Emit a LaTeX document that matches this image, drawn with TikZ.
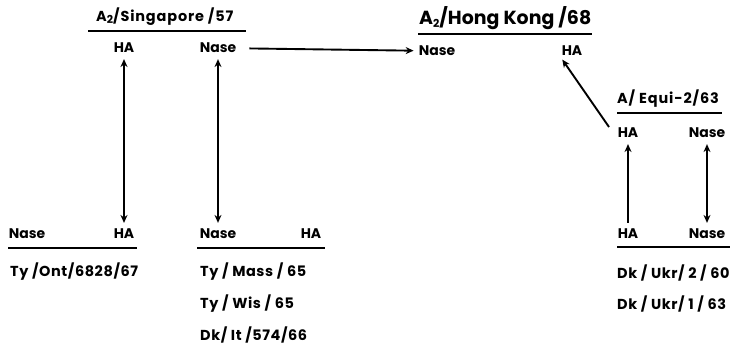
\documentclass[tikz,border=0pt]{standalone}
\usepackage{fontspec}
\setmainfont{Poppins}[UprightFont={* Bold},BoldFont={* Bold}]
\newfontfamily\widettl{Poppins}[UprightFont={* Bold},LetterSpace=6]
\newfontfamily\widelst{Poppins}[UprightFont={* Bold},LetterSpace=4]
\usetikzlibrary{arrows.meta}
\newcommand{\sub}[1]{\raisebox{-0.35ex}{\fontsize{11}{11}\selectfont #1}}
\begin{document}
\begin{tikzpicture}[x=1bp,y=-1bp,
  lbl/.style={font=\fontsize{14}{14}\selectfont, inner sep=1pt},
  ttl/.style={font=\widettl\fontsize{14.5}{14}\selectfont, inner sep=0pt, anchor=base west},
  lst/.style={font=\widelst\fontsize{14.5}{14}\selectfont, inner sep=0pt, anchor=base west},
  big/.style={font=\fontsize{19}{19}\selectfont, inner sep=0pt, anchor=base west},
  uline/.style={line width=2.2pt},
  arr/.style={line width=1.9pt, -{Stealth[length=8pt,width=7pt]}},
  darr/.style={line width=1.9pt, {Stealth[length=8pt,width=7pt]}-{Stealth[length=8pt,width=7pt]}}]
\useasboundingbox (0,0) rectangle (734,351);
% Singapore
\node[ttl] (sgt) at (96,21) {A\sub{2}/Singapore /57};
\draw[uline] (88,31) -- (246,31);
\node[lbl] (sgha) at (124,48) {HA};
\node[lbl] (sgna) at (218,48) {Nase};
% Hong Kong
\node[big] (hkt) at (419,24) {A\sub{2}/Hong Kong /68};
\draw[uline] (418,34) -- (592,34);
\node[lbl] (hkna) at (437,51) {Nase};
\node[lbl] (hkha) at (572,51) {HA};
% Equi
\node[ttl] (eqt) at (617,103) {A/ Equi-2/63};
\draw[uline] (617,113) -- (722,113);
\node[lbl] (eqha) at (628,133) {HA};
\node[lbl] (eqna) at (707,133) {Nase};
\coordinate (eqstart) at (609,127);
% bottom left
\node[lbl] (blna) at (27,234) {Nase};
\node[lbl] (blha) at (124,234) {HA};
\draw[uline] (8,248) -- (137,248);
\node[lst] (bl1) at (10,276) {Ty /Ont/6828/67};
% bottom middle
\node[lbl] (bmna) at (218,234) {Nase};
\node[lbl] (bmha) at (311,234) {HA};
\draw[uline] (197,248) -- (325,248);
\node[lst] (bm1) at (200,276) {Ty / Mass / 65};
\node[lst] (bm2) at (200,308) {Ty / Wis / 65};
\node[lst] (bm3) at (200,340) {Dk/ It /574/66};
% bottom right
\node[lbl] (brha) at (628,234) {HA};
\node[lbl] (brna) at (707,234) {Nase};
\draw[uline] (617,247) -- (730,247);
\node[lst] (br1) at (617,278) {Dk / Ukr/ 2 / 60};
\node[lst] (br2) at (617,309) {Dk / Ukr/ 1 / 63};
% connectors
\draw[darr, shorten <=5pt, shorten >=5pt] (sgha) -- (blha);
\draw[darr, shorten <=5pt, shorten >=5pt] (sgna) -- (bmna);
\draw[arr, shorten <=12pt, shorten >=4pt] (sgna) -- (hkna);
\draw[arr, shorten >=3pt] (eqstart) -- (hkha.south west);
\draw[arr, shorten <=5pt, shorten >=5pt] (brha) -- (eqha);
\draw[darr, shorten <=5pt, shorten >=5pt] (eqna) -- (brna);
\end{tikzpicture}
\end{document}
